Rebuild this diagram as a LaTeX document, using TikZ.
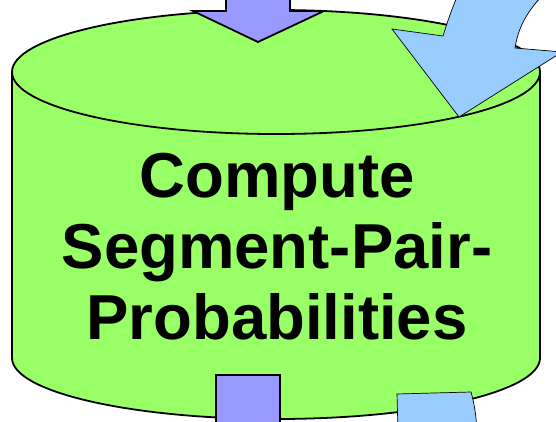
\documentclass[tikz,border=0pt]{standalone}
\usepackage{fontspec}
\setmainfont{Liberation Sans}
\definecolor{cylgreen}{HTML}{99FF66}
\definecolor{arrpurple}{HTML}{9999FF}
\definecolor{arrblue}{HTML}{99CCFF}
\begin{document}
\begin{tikzpicture}[x=1pt,y=1pt,
  cylbody/.style={fill=cylgreen,draw=black,line width=1.8pt,line join=round},
  purplearrow/.style={fill=arrpurple,draw=black,line width=1.8pt,line join=miter},
  bluearrow/.style={fill=arrblue,draw=black,line width=0.7pt,line join=miter},
  labeltext/.style={font=\fontsize{63.5}{71}\selectfont\bfseries,align=center,inner sep=0pt}]
\useasboundingbox (0,0) rectangle (556,421);
\clip (0,0) rectangle (556,421);
% cylinder
\path[cylbody] (12,349) -- (12,63)
  arc[start angle=180,end angle=360,x radius=264,y radius=61]
  -- (540,349)
  arc[start angle=0,end angle=180,x radius=264,y radius=62] -- cycle;
\draw[line width=1.8pt] (12,349) arc[start angle=180,end angle=360,x radius=264,y radius=62];
\node[labeltext] (label) at (277,174) {Compute\\Segment-Pair-\\Probabilities};
% top purple arrow
\path[purplearrow] (226,440) -- (226,410) -- (193,410) -- (258,379) -- (324,410) -- (290,410) -- (290,440) -- cycle;
% top right blue curved arrow
\path[bluearrow] (443,385) -- (392,392) -- (459,304) -- (562,369) -- (515,373)
  .. controls (518,393) and (527,411) .. (548,431)
  -- (462,436) .. controls (452,413) and (448,401) .. (443,385) -- cycle;
% bottom purple arrow shaft
\path[purplearrow] (216,-10) -- (216,46) -- (280,46) -- (280,-10) -- cycle;
% bottom blue arrow shaft
\path[bluearrow] (398,-10) -- (397,27) -- (471,29) .. controls (474,18) and (476,8) .. (477,-10) -- cycle;
\end{tikzpicture}
\end{document}
